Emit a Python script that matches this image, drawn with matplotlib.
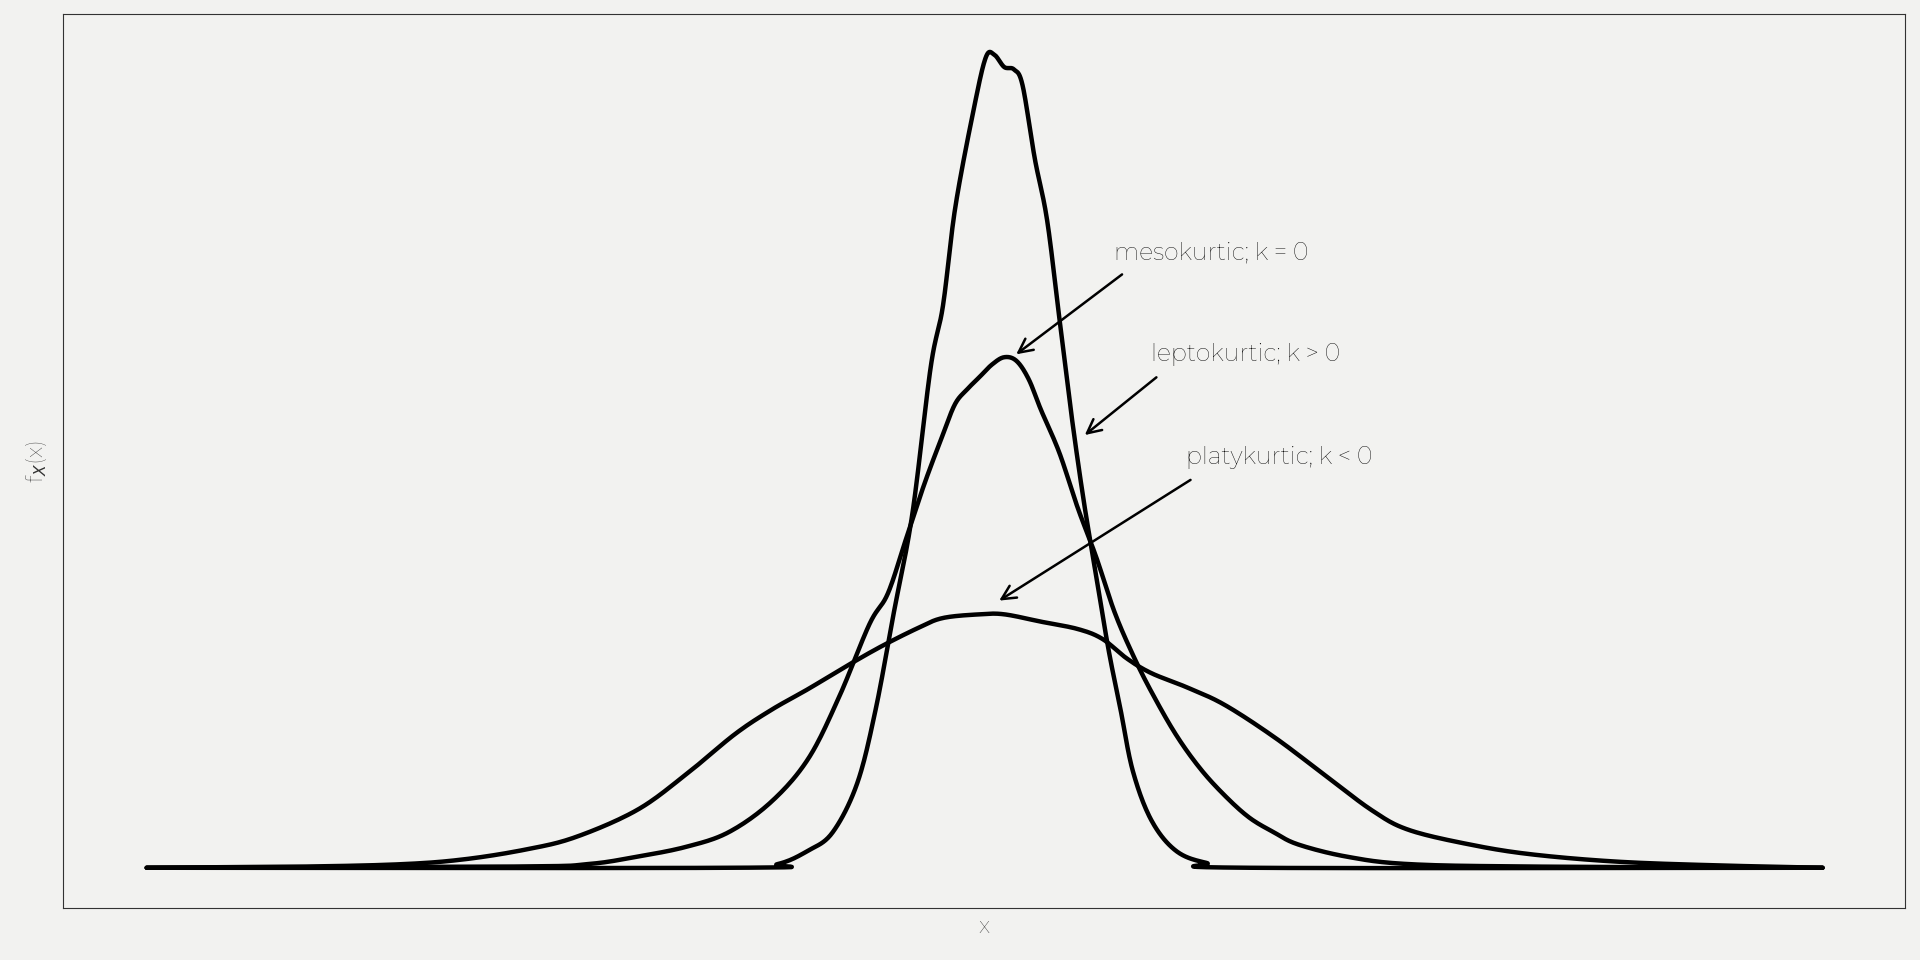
import numpy as np
import matplotlib
matplotlib.use("Agg")
import matplotlib.pyplot as plt

# Curves (x in horizontal units, y in density units)
lepto_x_raw = [120,600,635,660,680,700,715,730,745,760,770,780,795,805,812,820,828,835,845,855,865,875,885,895,905,915,925,940,960,985,1020,1488]
lepto_y_raw = [709,709,706,695,680,640,580,500,420,300,250,170,90,47,45,55,57,70,130,180,260,340,410,470,530,580,630,670,695,705,709,709]
meso_x_raw = [120,420,480,520,560,595,630,660,685,710,725,740,755,770,780,790,800,810,820,830,840,850,865,880,895,910,925,940,960,980,1000,1020,1040,1060,1100,1150,1250,1488]
meso_y_raw = [709,708,706,700,692,680,655,620,570,510,485,440,395,355,330,318,308,298,292,295,310,335,370,415,455,500,535,565,600,628,650,668,680,690,700,706,708,709]
platy_x_raw = [120,250,330,380,430,470,520,560,600,630,660,690,720,750,770,800,820,850,880,900,920,940,970,1000,1040,1080,1120,1150,1200,1250,1320,1400,1488]
platy_y_raw = [709,708,706,702,694,684,662,633,600,580,563,545,528,513,505,502,502,508,514,522,538,550,562,576,602,632,662,678,690,698,704,707,709]

def tx(v): return (np.array(v, float) - 804) / 171
def ty(v): return (709 - np.array(v, float)) / 664

def smooth(x, y, n=20):
    # Catmull-Rom rendering of the read points
    P = np.column_stack([x, y])
    P = np.vstack([P[0], P, P[-1]])
    out = []
    t = np.linspace(0, 1, n, endpoint=False)[:, None]
    for i in range(1, len(P) - 2):
        p0, p1, p2, p3 = P[i-1], P[i], P[i+1], P[i+2]
        out.append(0.5 * ((2*p1) + (-p0+p2)*t + (2*p0-5*p1+4*p2-p3)*t**2 + (-p0+3*p1-3*p2+p3)*t**3))
    out.append(P[-2][None, :])
    o = np.vstack(out)
    return o[:, 0], o[:, 1]

bg = "#f2f2f0"
plt.rcParams['font.family'] = ['Montserrat', 'Lato', 'DejaVu Sans']
fig = plt.figure(figsize=(19.2, 9.6), dpi=100, facecolor=bg)
ax = fig.add_axes([0.033, 0.054, 0.959, 0.931], facecolor=bg)

for xr, yr in [(lepto_x_raw, lepto_y_raw), (meso_x_raw, meso_y_raw), (platy_x_raw, platy_y_raw)]:
    sx, sy = smooth(tx(xr), ty(yr))
    ax.plot(sx, sy, color="black", lw=3.2, solid_capstyle="round")

ax.set_xlim(tx(52), tx(1555))
ax.set_ylim(ty(742), ty(12))
ax.set_xticks([]); ax.set_yticks([])
for s in ax.spines.values():
    s.set_color("#333333"); s.set_linewidth(0.8)

ann = [("mesokurtic; k = 0", (910, 207), (918, 223), (828, 291)),
       ("leptokurtic; k > 0", (940, 290), (946, 307), (884, 357)),
       ("platykurtic; k < 0", (968, 374), (974, 391), (814, 492))]
for txt, tp, a0, a1 in ann:
    ax.text(tx(tp[0]), ty(tp[1]), txt, fontsize=17, va="center", ha="left")
    ax.annotate("", xy=(tx(a1[0]), ty(a1[1])), xytext=(tx(a0[0]), ty(a0[1])),
                arrowprops=dict(arrowstyle="->", lw=1.8, color="black", mutation_scale=25))

ax.set_xlabel("x", fontsize=16, color="#333333", labelpad=6)
ax.set_ylabel(r"f$_X$(x)", fontsize=16, color="#333333", labelpad=10)
fig.savefig("out.png", dpi=100, facecolor=bg)
